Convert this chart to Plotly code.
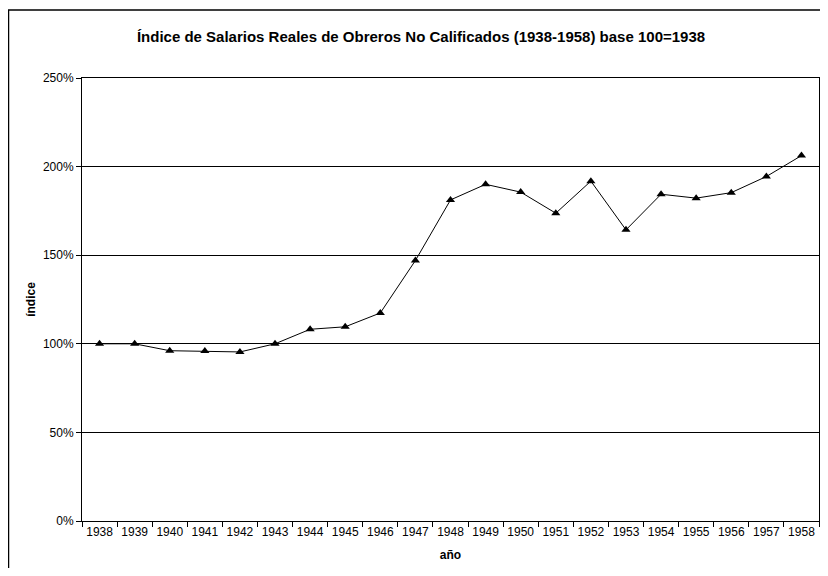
import plotly.graph_objects as go

years = [str(y) for y in range(1938, 1959)]
indice = [100, 100, 96.1, 95.9, 95.4, 100, 108.2, 109.6, 117.4, 147.0,
          181.2, 190.0, 185.6, 173.7, 191.8, 164.3, 184.4, 182.2, 185.3, 194.4, 206.2]
y_ticks = [0, 50, 100, 150, 200, 250]
y_tick_labels = [f"{v}%" for v in y_ticks]

title_text = "Índice de Salarios Reales de Obreros No Calificados (1938-1958) base 100=1938"

fig = go.Figure()
fig.add_trace(go.Scatter(
    x=years, y=indice, mode="lines+markers",
    line=dict(color="black", width=1),
    marker=dict(symbol="triangle-up", size=8, color="black"),
    showlegend=False,
    cliponaxis=False,
))

# page has an 8px body margin; figure drawn at page offset (8, 8)
OFF = 8
W, H = 812, 560
L, R, T, B = 82 - OFF, 1, 78 - OFF, (OFF + H) - 521.5
pw, ph = W - L - R, H - T - B

def px_x(p):
    return (p - OFF - L) / pw

def px_y(p):
    return (521.5 - p) / ph

fig.update_layout(
    width=W, height=H,
    margin=dict(l=L, r=R, t=T, b=B, pad=0, autoexpand=False),
    paper_bgcolor="white", plot_bgcolor="white",
    font=dict(family="Liberation Sans, Arial, sans-serif", color="black", size=12),
    title=dict(text="<b>" + title_text + "</b>", x=px_x(421), xref="paper", xanchor="center",
               y=1 - (37 - OFF) / H, yanchor="middle", yref="container",
               font=dict(size=15, color="black")),
    xaxis=dict(
        type="category", range=[-0.5, 20.5],
        showline=True, linecolor="black", linewidth=1, mirror=True,
        ticks="outside", tickson="boundaries", ticklen=5, tickcolor="black",
        showgrid=False, tickfont=dict(size=12), tickangle=0, automargin=False,
        title=dict(text="<b>año</b>", font=dict(size=12), standoff=12),
    ),
    yaxis=dict(
        range=[0, 250], tickvals=y_ticks, ticktext=y_tick_labels,
        showline=True, linecolor="black", linewidth=1, mirror=True,
        ticks="outside", ticklen=5, tickcolor="black",
        showgrid=True, gridcolor="black", gridwidth=1,
        zeroline=False, tickfont=dict(size=12), automargin=False,
        title=dict(text="<b>índice</b>", font=dict(size=12), standoff=4),
    ),
    shapes=[dict(type="rect", xref="paper", yref="paper",
                 x0=px_x(8.5), x1=px_x(900), y0=px_y(650), y1=px_y(10),
                 line=dict(color="black", width=1.5), fillcolor="rgba(0,0,0,0)",
                 layer="below")],
)

fig.write_html("out.html")
